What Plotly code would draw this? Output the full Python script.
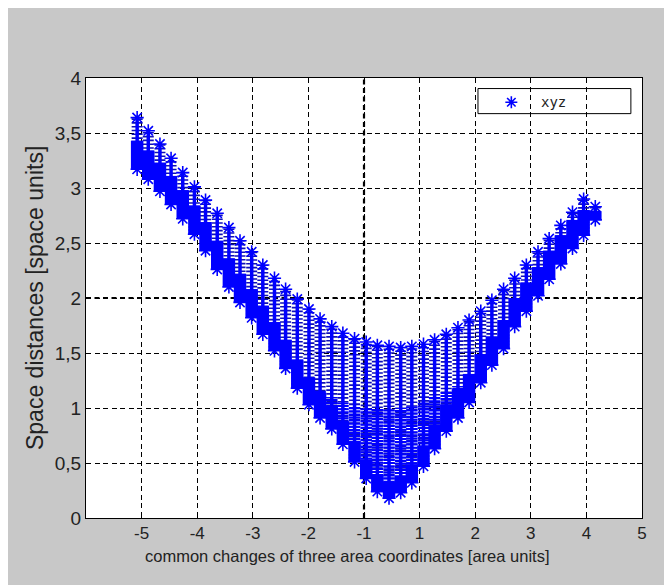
import plotly.graph_objects as go

# ---- data (x in the plot's own axis units) ----
COL_X = [-5.08, -4.88, -4.67, -4.47, -4.26, -4.05, -3.85, -3.64, -3.43, -3.23,
         -3.02, -2.82, -2.61, -2.41, -2.20, -1.99, -1.79, -1.58, -1.38, -1.17,
         -0.96, -0.76, -0.55, -0.34, -0.14, 0.07, 0.27, 0.48, 0.69, 0.89,
         1.10, 1.30, 1.51, 1.71, 1.92, 2.13, 2.33, 2.54, 2.75, 2.95, 3.16]
COL_TOP = [3.64, 3.52, 3.40, 3.27, 3.14, 3.01, 2.89, 2.77, 2.64, 2.52,
           2.42, 2.30, 2.18, 2.08, 1.99, 1.90, 1.81, 1.74, 1.68, 1.63,
           1.60, 1.57, 1.56, 1.55, 1.56, 1.58, 1.62, 1.67, 1.73, 1.80,
           1.88, 1.98, 2.08, 2.18, 2.30, 2.42, 2.54, 2.66, 2.78, 2.90, 2.83]
COL_BOTTOM = [3.17, 3.08, 2.97, 2.85, 2.72, 2.58, 2.43, 2.26, 2.10, 1.96,
              1.82, 1.67, 1.52, 1.36, 1.18, 1.03, 0.91, 0.81, 0.67, 0.51,
              0.36, 0.24, 0.18, 0.23, 0.32, 0.47, 0.63, 0.79, 0.91, 1.05,
              1.23, 1.39, 1.54, 1.74, 1.88, 2.02, 2.17, 2.31, 2.45, 2.57, 2.71]
# level up to which each column's points are packed solid
COL_DENSE = [3.43, 3.34, 3.23, 3.11, 2.98, 2.84, 2.69, 2.52, 2.36, 2.22,
             2.08, 1.93, 1.78, 1.62, 1.44, 1.28, 1.14, 1.02, 0.88, 0.70,
             0.53, 0.39, 0.33, 0.38, 0.49, 0.66, 0.85, 1.03, 1.17, 1.31,
             1.49, 1.65, 1.80, 2.00, 2.14, 2.28, 2.43, 2.57, 2.71, 2.80, 2.79]
# level up to which the points are closely packed (dotted texture)
COL_MID = [3.43, 3.34, 3.23, 3.11, 2.98, 2.84, 2.69, 2.52, 2.36, 2.22,
           2.08, 1.93, 1.78, 1.62, 1.44, 1.28, 1.16, 1.10, 1.05, 1.02,
           1.00, 1.00, 1.00, 1.00, 1.02, 1.05, 1.10, 1.15, 1.20, 1.31,
           1.49, 1.65, 1.80, 2.00, 2.14, 2.28, 2.43, 2.57, 2.71, 2.80, 2.79]

SERIES_NAME = "xyz"
X_RANGE = [-6, 4]
Y_RANGE = [0, 4]
X_TICKS = [-5, -4, -3, -2, -1, 0, 1, 2, 3, 4]
X_TICK_LABELS = ["-5", "-4", "-3", "-2", "-1", "1", "2", "3", "4", "5"]
Y_TICKS = [0, 0.5, 1, 1.5, 2, 2.5, 3, 3.5, 4]
Y_TICK_LABELS = ["0", "0,5", "1", "1,5", "2", "2,5", "3", "3,5", "4"]
REF_X = -1
REF_Y = 2
X_TITLE = "common changes of three area coordinates [area units]"
Y_TITLE = "Space distances [space units]"

BLUE = "#0000ff"
DARK_BLUE = "#1010b8"
FONT = "Liberation Sans, Arial, sans-serif"
COL_W = 11.5


def segments(xs, y0s, y1s):
    px, py = [], []
    for x, a, b in zip(xs, y0s, y1s):
        px += [x, x, None]
        py += [a, b, None]
    return px, py


fig = go.Figure()

# ladder of stacked asterisks (whole column)
lx, ly = segments(COL_X, COL_BOTTOM, COL_TOP)
fig.add_trace(go.Scatter(x=lx, y=ly, mode="lines", hoverinfo="skip",
                         line=dict(color=DARK_BLUE, width=COL_W - 0.5, dash="1.6px,2.2px"),
                         showlegend=False))
# vertical spine of the asterisks
fig.add_trace(go.Scatter(x=lx, y=ly, mode="lines", hoverinfo="skip",
                         line=dict(color=BLUE, width=3.5), showlegend=False))
# closely packed part (dotted texture)
mx, my = segments(COL_X, COL_BOTTOM, COL_MID)
fig.add_trace(go.Scatter(x=mx, y=my, mode="lines", hoverinfo="skip",
                         line=dict(color=BLUE, width=COL_W, dash="2px,1.1px"),
                         showlegend=False))
# densely packed lower part of each column
dx, dy = segments(COL_X, COL_BOTTOM, COL_DENSE)
fig.add_trace(go.Scatter(x=dx, y=dy, mode="lines", hoverinfo="skip",
                         line=dict(color=BLUE, width=COL_W + 1), showlegend=False))
# end markers
fig.add_trace(go.Scatter(x=COL_X + COL_X, y=COL_TOP + COL_BOTTOM, mode="markers",
                         name=SERIES_NAME,
                         marker=dict(symbol="asterisk-open", size=11, color=BLUE,
                                     line=dict(color=BLUE, width=1.6)),
                         showlegend=False))

# legend marker (drawn on a hidden overlay axis spanning the plot area)
fig.add_trace(go.Scatter(x=[0.765], y=[0.945], xaxis="x2", yaxis="y2",
                         mode="markers", hoverinfo="skip", showlegend=False,
                         marker=dict(symbol="asterisk-open", size=10, color=BLUE,
                                     line=dict(color=BLUE, width=1.6))))

grid_dash = "5px,3.5px"
axis_common = dict(
    showline=True, linecolor="black", linewidth=1, mirror="ticks",
    ticks="inside", ticklen=5, tickcolor="black",
    showgrid=True, gridcolor="black", gridwidth=1, griddash=grid_dash,
    zeroline=False,
)

fig.update_layout(
    width=672, height=585,
    margin=dict(l=78, r=38, t=70, b=75),
    paper_bgcolor="#c8c8c8", plot_bgcolor="white",
    showlegend=False,
    font=dict(family=FONT, color="#222222"),
    xaxis=dict(range=X_RANGE, tickvals=X_TICKS, ticktext=X_TICK_LABELS,
               tickfont=dict(size=17, color="#222222"), **axis_common),
    yaxis=dict(range=Y_RANGE, tickvals=Y_TICKS, ticktext=Y_TICK_LABELS,
               tickfont=dict(size=19, color="#222222"), **axis_common),
    xaxis2=dict(overlaying="x", range=[0, 1], visible=False, fixedrange=True),
    yaxis2=dict(overlaying="y", range=[0, 1], visible=False, fixedrange=True),
    shapes=[
        dict(type="line", xref="x", yref="paper", x0=REF_X, x1=REF_X, y0=0, y1=1,
             line=dict(color="black", width=2.2, dash=grid_dash), layer="between"),
        dict(type="line", xref="paper", yref="y", x0=0, x1=1, y0=REF_Y, y1=REF_Y,
             line=dict(color="black", width=2.2, dash=grid_dash), layer="between"),
        dict(type="rect", xref="paper", yref="paper", x0=0.705, x1=0.980,
             y0=0.919, y1=0.976, fillcolor="white",
             line=dict(color="black", width=1), layer="between"),
    ],
    annotations=[
        dict(text=SERIES_NAME, xref="paper", yref="paper", x=0.840, y=0.945,
             xanchor="center", yanchor="middle", showarrow=False,
             font=dict(family="DejaVu Sans Mono, monospace", size=14, color="#222222")),
        dict(text=X_TITLE, xref="paper", yref="paper", x=0.469, y=-0.0864,
             xanchor="center", yanchor="middle", showarrow=False,
             font=dict(size=16.5, color="#222222")),
        dict(text=Y_TITLE, xref="paper", yref="paper", x=-0.0917, y=0.5,
             xanchor="center", yanchor="middle", showarrow=False, textangle=-90,
             font=dict(size=23, color="#222222")),
    ],
)

fig.write_html("out.html")
